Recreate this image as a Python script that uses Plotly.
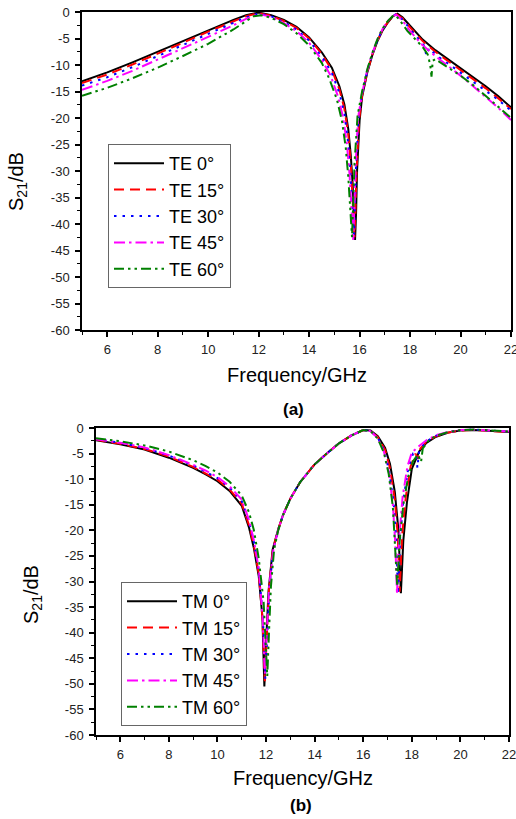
import plotly.graph_objects as go

W, H = 516, 819

# ---------------- data: panel (a) TE ----------------
te0_f = [5.0, 6.0, 7.0, 8.0, 9.0, 10.0, 11.0, 11.5, 12.0, 12.5, 13.0, 13.5, 14.0, 14.5, 14.9, 15.2, 15.4, 15.55, 15.65, 15.72, 15.78, 15.82, 15.86, 15.9, 16.0, 16.1, 16.3, 16.5, 16.7, 16.9, 17.1, 17.3, 17.5, 17.7, 18.0, 18.5, 19.0, 19.5, 20.0, 20.5, 21.0, 21.5, 22.0]
te0_db = [-13.1, -11.4, -9.5, -7.5, -5.4, -3.4, -1.5, -0.6, -0.1, -0.6, -1.5, -2.8, -4.8, -7.6, -10.5, -14.0, -17.5, -22.0, -27.0, -32.0, -38.0, -43.0, -38.0, -30.0, -20.5, -16.0, -11.5, -8.2, -5.6, -3.6, -2.1, -0.9, -0.3, -1.0, -2.6, -5.2, -7.2, -8.9, -10.6, -12.4, -14.0, -15.9, -18.0]

te15_f = [5.0, 6.0, 7.0, 8.0, 9.0, 10.0, 11.0, 11.5, 12.0, 12.5, 13.0, 13.5, 14.0, 14.5, 14.9, 15.2, 15.4, 15.55, 15.65, 15.72, 15.77, 15.8, 15.84, 15.88, 15.98, 16.1, 16.3, 16.5, 16.7, 16.9, 17.1, 17.3, 17.45, 17.7, 18.0, 18.5, 19.0, 19.5, 20.0, 20.5, 21.0, 21.5, 22.0]
te15_db = [-13.4, -11.8, -9.9, -7.9, -5.8, -3.7, -1.7, -0.8, -0.2, -0.7, -1.7, -3.0, -5.0, -7.9, -10.9, -14.6, -18.3, -23.0, -28.5, -34.0, -39.0, -42.5, -37.0, -30.0, -20.5, -15.8, -11.4, -8.1, -5.5, -3.5, -2.0, -0.9, -0.4, -1.2, -2.9, -5.5, -7.5, -9.2, -10.9, -12.7, -14.4, -16.3, -18.3]

te30_f = [5.0, 6.0, 7.0, 8.0, 9.0, 10.0, 11.0, 11.5, 12.0, 12.5, 13.0, 13.5, 14.0, 14.5, 14.9, 15.2, 15.4, 15.53, 15.63, 15.7, 15.75, 15.78, 15.82, 15.86, 15.96, 16.1, 16.3, 16.5, 16.7, 16.9, 17.1, 17.3, 17.45, 17.7, 18.0, 18.3, 18.55, 18.65, 18.75, 19.0, 19.5, 20.0, 20.5, 21.0, 21.5, 22.0]
te30_db = [-13.9, -12.3, -10.4, -8.3, -6.2, -4.1, -2.0, -1.0, -0.3, -0.8, -1.9, -3.3, -5.4, -8.4, -11.5, -15.3, -19.2, -24.0, -29.5, -35.0, -40.0, -42.0, -36.0, -29.0, -20.0, -15.5, -11.2, -8.0, -5.4, -3.4, -1.9, -0.8, -0.4, -1.4, -3.2, -4.8, -6.3, -8.2, -6.8, -8.0, -9.7, -11.4, -13.1, -14.8, -16.6, -18.6]

te45_f = [5.0, 6.0, 7.0, 8.0, 9.0, 10.0, 11.0, 11.5, 12.0, 12.5, 13.0, 13.5, 14.0, 14.5, 14.85, 15.15, 15.35, 15.5, 15.6, 15.67, 15.72, 15.75, 15.79, 15.84, 15.94, 16.1, 16.3, 16.5, 16.7, 16.9, 17.1, 17.3, 17.45, 17.7, 18.0, 18.5, 19.0, 19.5, 20.0, 20.5, 21.0, 21.5, 22.0]
te45_db = [-14.7, -13.0, -11.1, -9.0, -6.8, -4.7, -2.5, -1.3, -0.4, -0.9, -2.1, -3.6, -5.8, -9.0, -12.0, -16.0, -20.0, -25.0, -30.5, -36.0, -41.0, -43.0, -37.0, -29.0, -20.0, -15.3, -11.1, -7.9, -5.3, -3.3, -1.8, -0.8, -0.5, -1.6, -3.6, -6.3, -8.3, -10.1, -12.0, -14.0, -16.0, -18.1, -20.4]

te60_f = [5.0, 6.0, 7.0, 8.0, 9.0, 10.0, 11.0, 11.5, 11.8, 12.1, 12.5, 13.0, 13.5, 14.0, 14.5, 14.8, 15.1, 15.3, 15.45, 15.55, 15.62, 15.67, 15.7, 15.74, 15.8, 15.92, 16.1, 16.3, 16.5, 16.7, 16.9, 17.1, 17.3, 17.42, 17.6, 17.9, 18.2, 18.5, 18.7, 18.8, 18.85, 18.9, 19.0, 19.5, 20.0, 20.5, 21.0, 21.5, 22.0]
te60_db = [-15.8, -14.3, -12.5, -10.5, -8.3, -6.0, -3.3, -1.7, -0.8, -0.6, -1.1, -2.3, -4.0, -6.3, -9.6, -12.6, -16.5, -20.5, -25.5, -31.0, -36.5, -41.0, -42.5, -37.0, -28.5, -19.5, -15.0, -10.9, -7.8, -5.2, -3.2, -1.8, -0.8, -0.6, -1.6, -3.6, -5.2, -6.6, -8.0, -10.0, -12.2, -9.2, -8.9, -10.4, -12.0, -13.8, -15.8, -17.9, -20.0]

# ---------------- data: panel (b) TM ----------------
tm0_f = [5.0, 6.0, 7.0, 8.0, 9.0, 9.5, 10.0, 10.5, 11.0, 11.3, 11.5, 11.7, 11.85, 11.93, 12.0, 12.1, 12.27, 12.5, 12.7, 13.0, 13.4, 14.0, 14.5, 15.0, 15.5, 16.0, 16.3, 16.6, 16.9, 17.1, 17.3, 17.45, 17.55, 17.65, 17.8, 18.0, 18.3, 18.6, 19.0, 19.5, 20.0, 20.5, 21.0, 21.5, 22.0]
tm0_db = [-2.4, -3.2, -4.2, -5.8, -7.8, -9.0, -10.4, -12.3, -15.2, -19.5, -23.5, -29.0, -37.0, -50.5, -42.0, -32.0, -23.8, -19.8, -17.0, -13.8, -10.6, -7.1, -5.0, -3.0, -1.5, -0.4, -0.5, -1.6, -3.9, -7.0, -12.5, -20.0, -32.3, -22.0, -14.5, -8.0, -4.6, -2.9, -1.7, -0.9, -0.5, -0.4, -0.5, -0.6, -0.8]

tm15_f = [5.0, 6.0, 7.0, 8.0, 9.0, 9.5, 10.0, 10.5, 11.0, 11.3, 11.5, 11.7, 11.85, 11.95, 12.02, 12.12, 12.28, 12.5, 12.7, 13.0, 13.4, 14.0, 14.5, 15.0, 15.5, 16.0, 16.3, 16.6, 16.9, 17.1, 17.3, 17.42, 17.5, 17.6, 17.75, 17.95, 18.15, 18.25, 18.35, 18.6, 19.0, 19.5, 20.0, 20.5, 21.0, 21.5, 22.0]
tm15_db = [-2.3, -3.1, -4.1, -5.6, -7.6, -8.8, -10.1, -12.0, -14.8, -19.0, -23.0, -28.5, -37.0, -49.5, -41.0, -31.5, -23.8, -19.8, -17.0, -13.8, -10.6, -7.1, -5.0, -3.0, -1.5, -0.4, -0.6, -1.8, -4.3, -7.8, -14.0, -21.0, -32.0, -21.0, -13.5, -7.5, -5.0, -6.0, -4.0, -2.7, -1.6, -0.9, -0.5, -0.4, -0.5, -0.6, -0.8]

tm30_f = [5.0, 6.0, 7.0, 8.0, 9.0, 9.5, 10.0, 10.5, 11.0, 11.3, 11.5, 11.7, 11.87, 11.97, 12.04, 12.14, 12.3, 12.5, 12.7, 13.0, 13.4, 14.0, 14.5, 15.0, 15.5, 16.0, 16.3, 16.6, 16.85, 17.05, 17.25, 17.36, 17.43, 17.52, 17.65, 17.85, 18.05, 18.18, 18.23, 18.3, 18.6, 19.0, 19.5, 20.0, 20.5, 21.0, 21.5, 22.0]
tm30_db = [-2.2, -2.9, -3.9, -5.4, -7.3, -8.5, -9.8, -11.6, -14.3, -18.3, -22.3, -27.8, -37.0, -49.0, -40.0, -31.0, -23.8, -19.9, -17.0, -13.8, -10.6, -7.1, -5.0, -3.0, -1.5, -0.4, -0.6, -1.9, -4.3, -8.0, -14.5, -22.0, -32.5, -21.5, -14.0, -8.0, -5.0, -5.0, -7.8, -4.5, -2.6, -1.5, -0.8, -0.4, -0.3, -0.4, -0.5, -0.7]

tm45_f = [5.0, 6.0, 7.0, 8.0, 9.0, 9.5, 10.0, 10.5, 11.0, 11.3, 11.5, 11.7, 11.86, 11.95, 12.03, 12.13, 12.3, 12.5, 12.7, 13.0, 13.4, 14.0, 14.5, 15.0, 15.5, 16.0, 16.3, 16.6, 16.85, 17.05, 17.22, 17.32, 17.39, 17.48, 17.62, 17.82, 18.0, 18.3, 18.6, 19.0, 19.5, 20.0, 20.5, 21.0, 21.5, 22.0]
tm45_db = [-2.2, -2.9, -3.8, -5.3, -7.2, -8.3, -9.6, -11.4, -14.0, -18.0, -22.0, -27.5, -37.0, -48.0, -40.0, -31.0, -23.8, -19.9, -17.0, -13.8, -10.6, -7.1, -5.0, -3.0, -1.5, -0.4, -0.6, -2.0, -4.6, -8.5, -15.0, -22.5, -32.5, -21.5, -13.5, -7.5, -4.8, -3.5, -2.4, -1.4, -0.8, -0.4, -0.3, -0.4, -0.5, -0.7]

tm60_f = [5.0, 6.0, 7.0, 8.0, 9.0, 9.5, 10.0, 10.5, 11.0, 11.3, 11.5, 11.7, 11.9, 12.05, 12.12, 12.2, 12.33, 12.5, 12.7, 13.0, 13.4, 14.0, 14.5, 15.0, 15.5, 16.0, 16.3, 16.6, 16.85, 17.05, 17.22, 17.32, 17.4, 17.5, 17.65, 17.85, 18.05, 18.25, 18.38, 18.45, 18.7, 19.0, 19.5, 20.0, 20.5, 21.0, 21.5, 22.0]
tm60_db = [-2.0, -2.6, -3.4, -4.6, -6.3, -7.4, -8.7, -10.5, -13.2, -16.5, -20.0, -25.5, -34.0, -48.5, -40.0, -31.0, -23.8, -20.0, -17.0, -13.8, -10.6, -7.1, -5.0, -3.0, -1.5, -0.4, -0.6, -2.1, -4.8, -9.0, -15.5, -23.0, -31.0, -22.0, -15.0, -9.5, -6.5, -5.2, -6.6, -4.0, -2.4, -1.5, -0.8, -0.4, -0.3, -0.4, -0.5, -0.7]

te_names = ["TE 0°", "TE 15°", "TE 30°", "TE 45°", "TE 60°"]
tm_names = ["TM 0°", "TM 15°", "TM 30°", "TM 45°", "TM 60°"]

x_ticks = [6, 8, 10, 12, 14, 16, 18, 20, 22]
x_minor = [5, 7, 9, 11, 13, 15, 17, 19, 21]
y_ticks = [0, -5, -10, -15, -20, -25, -30, -35, -40, -45, -50, -55, -60]
y_minor = [-2.5, -7.5, -12.5, -17.5, -22.5, -27.5, -32.5, -37.5, -42.5, -47.5, -52.5, -57.5]

# ---------------- styles ----------------
colors = ["#000000", "#FF0000", "#0000FF", "#FF00FF", "#008000"]
dashes = ["solid", "10px,6px", "2.5px,6px", "11px,4px,2.5px,4px", "10px,4px,2.5px,4px,2.5px,4px"]
FONT = "Liberation Sans, Arial, sans-serif"

te_data = [(te0_f, te0_db), (te15_f, te15_db), (te30_f, te30_db), (te45_f, te45_db), (te60_f, te60_db)]
tm_data = [(tm0_f, tm0_db), (tm15_f, tm15_db), (tm30_f, tm30_db), (tm45_f, tm45_db), (tm60_f, tm60_db)]

fig = go.Figure()
for i, (f, d) in enumerate(te_data):
    fig.add_trace(go.Scatter(x=f, y=d, mode="lines", name=te_names[i],
                             line=dict(color=colors[i], width=2, dash=dashes[i]),
                             xaxis="x", yaxis="y", legend="legend"))
for i, (f, d) in enumerate(tm_data):
    fig.add_trace(go.Scatter(x=f, y=d, mode="lines", name=tm_names[i],
                             line=dict(color=colors[i], width=2, dash=dashes[i]),
                             xaxis="x2", yaxis="y2", legend="legend2"))

def px_x(v):
    return v / W

def px_y(v):
    return 1 - v / H

common = dict(ticks="outside", ticklen=5, tickwidth=1.5, tickcolor="black",
              showline=True, linewidth=1.5, linecolor="black", mirror=True,
              showgrid=False, zeroline=False, automargin=False,
              ticklabeloverflow="allow",
              tickfont=dict(family=FONT, size=13, color="#222"))
xa = dict(common, range=[5, 22], tickmode="array", tickvals=x_ticks, ticktext=[str(t) for t in x_ticks],
          ticklabelstandoff=2,
          minor=dict(tickmode="array", tickvals=x_minor, ticks="outside", ticklen=3, tickwidth=1.2, tickcolor="black", showgrid=False))
ya = dict(common, range=[-60, 0], tickmode="array", tickvals=y_ticks, ticktext=[str(t) for t in y_ticks],
          ticklabelstandoff=3,
          minor=dict(tickmode="array", tickvals=y_minor, ticks="outside", ticklen=3, tickwidth=1.2, tickcolor="black", showgrid=False))

leg = dict(bgcolor="white", bordercolor="#666", borderwidth=1,
           font=dict(family=FONT, size=18, color="black"),
           xanchor="left", yanchor="top", itemwidth=50, tracegroupgap=0)

fig.update_layout(
    width=W, height=H, margin=dict(l=0, r=0, t=0, b=0, autoexpand=False),
    paper_bgcolor="white", plot_bgcolor="white", showlegend=True,
    xaxis=dict(xa, domain=[px_x(82), px_x(511)], anchor="y"),
    yaxis=dict(ya, domain=[px_y(330), px_y(12)], anchor="x"),
    xaxis2=dict(xa, domain=[px_x(96), px_x(509)], anchor="y2"),
    yaxis2=dict(ya, domain=[px_y(735), px_y(428)], anchor="x2"),
    legend=dict(leg, x=px_x(108), y=px_y(144)),
    legend2=dict(leg, x=px_x(121), y=px_y(582)),
)

ann_font = dict(family=FONT, size=20, color="black")
annotations = [
    dict(text="Frequency/GHz", x=px_x(297), y=px_y(375), font=ann_font),
    dict(text="S<sub>21</sub>/dB", x=px_x(17), y=px_y(182), font=ann_font, textangle=-90),
    dict(text="<b>(a)</b>", x=px_x(293), y=px_y(409), font=dict(family=FONT, size=17, color="black")),
    dict(text="Frequency/GHz", x=px_x(303), y=px_y(778), font=ann_font),
    dict(text="S<sub>21</sub>/dB", x=px_x(32), y=px_y(595), font=ann_font, textangle=-90),
    dict(text="<b>(b)</b>", x=px_x(301), y=px_y(805), font=dict(family=FONT, size=17, color="black")),
]
for a in annotations:
    fig.add_annotation(xref="paper", yref="paper", showarrow=False, xanchor="center", yanchor="middle", **a)

fig.write_html("out.html")
